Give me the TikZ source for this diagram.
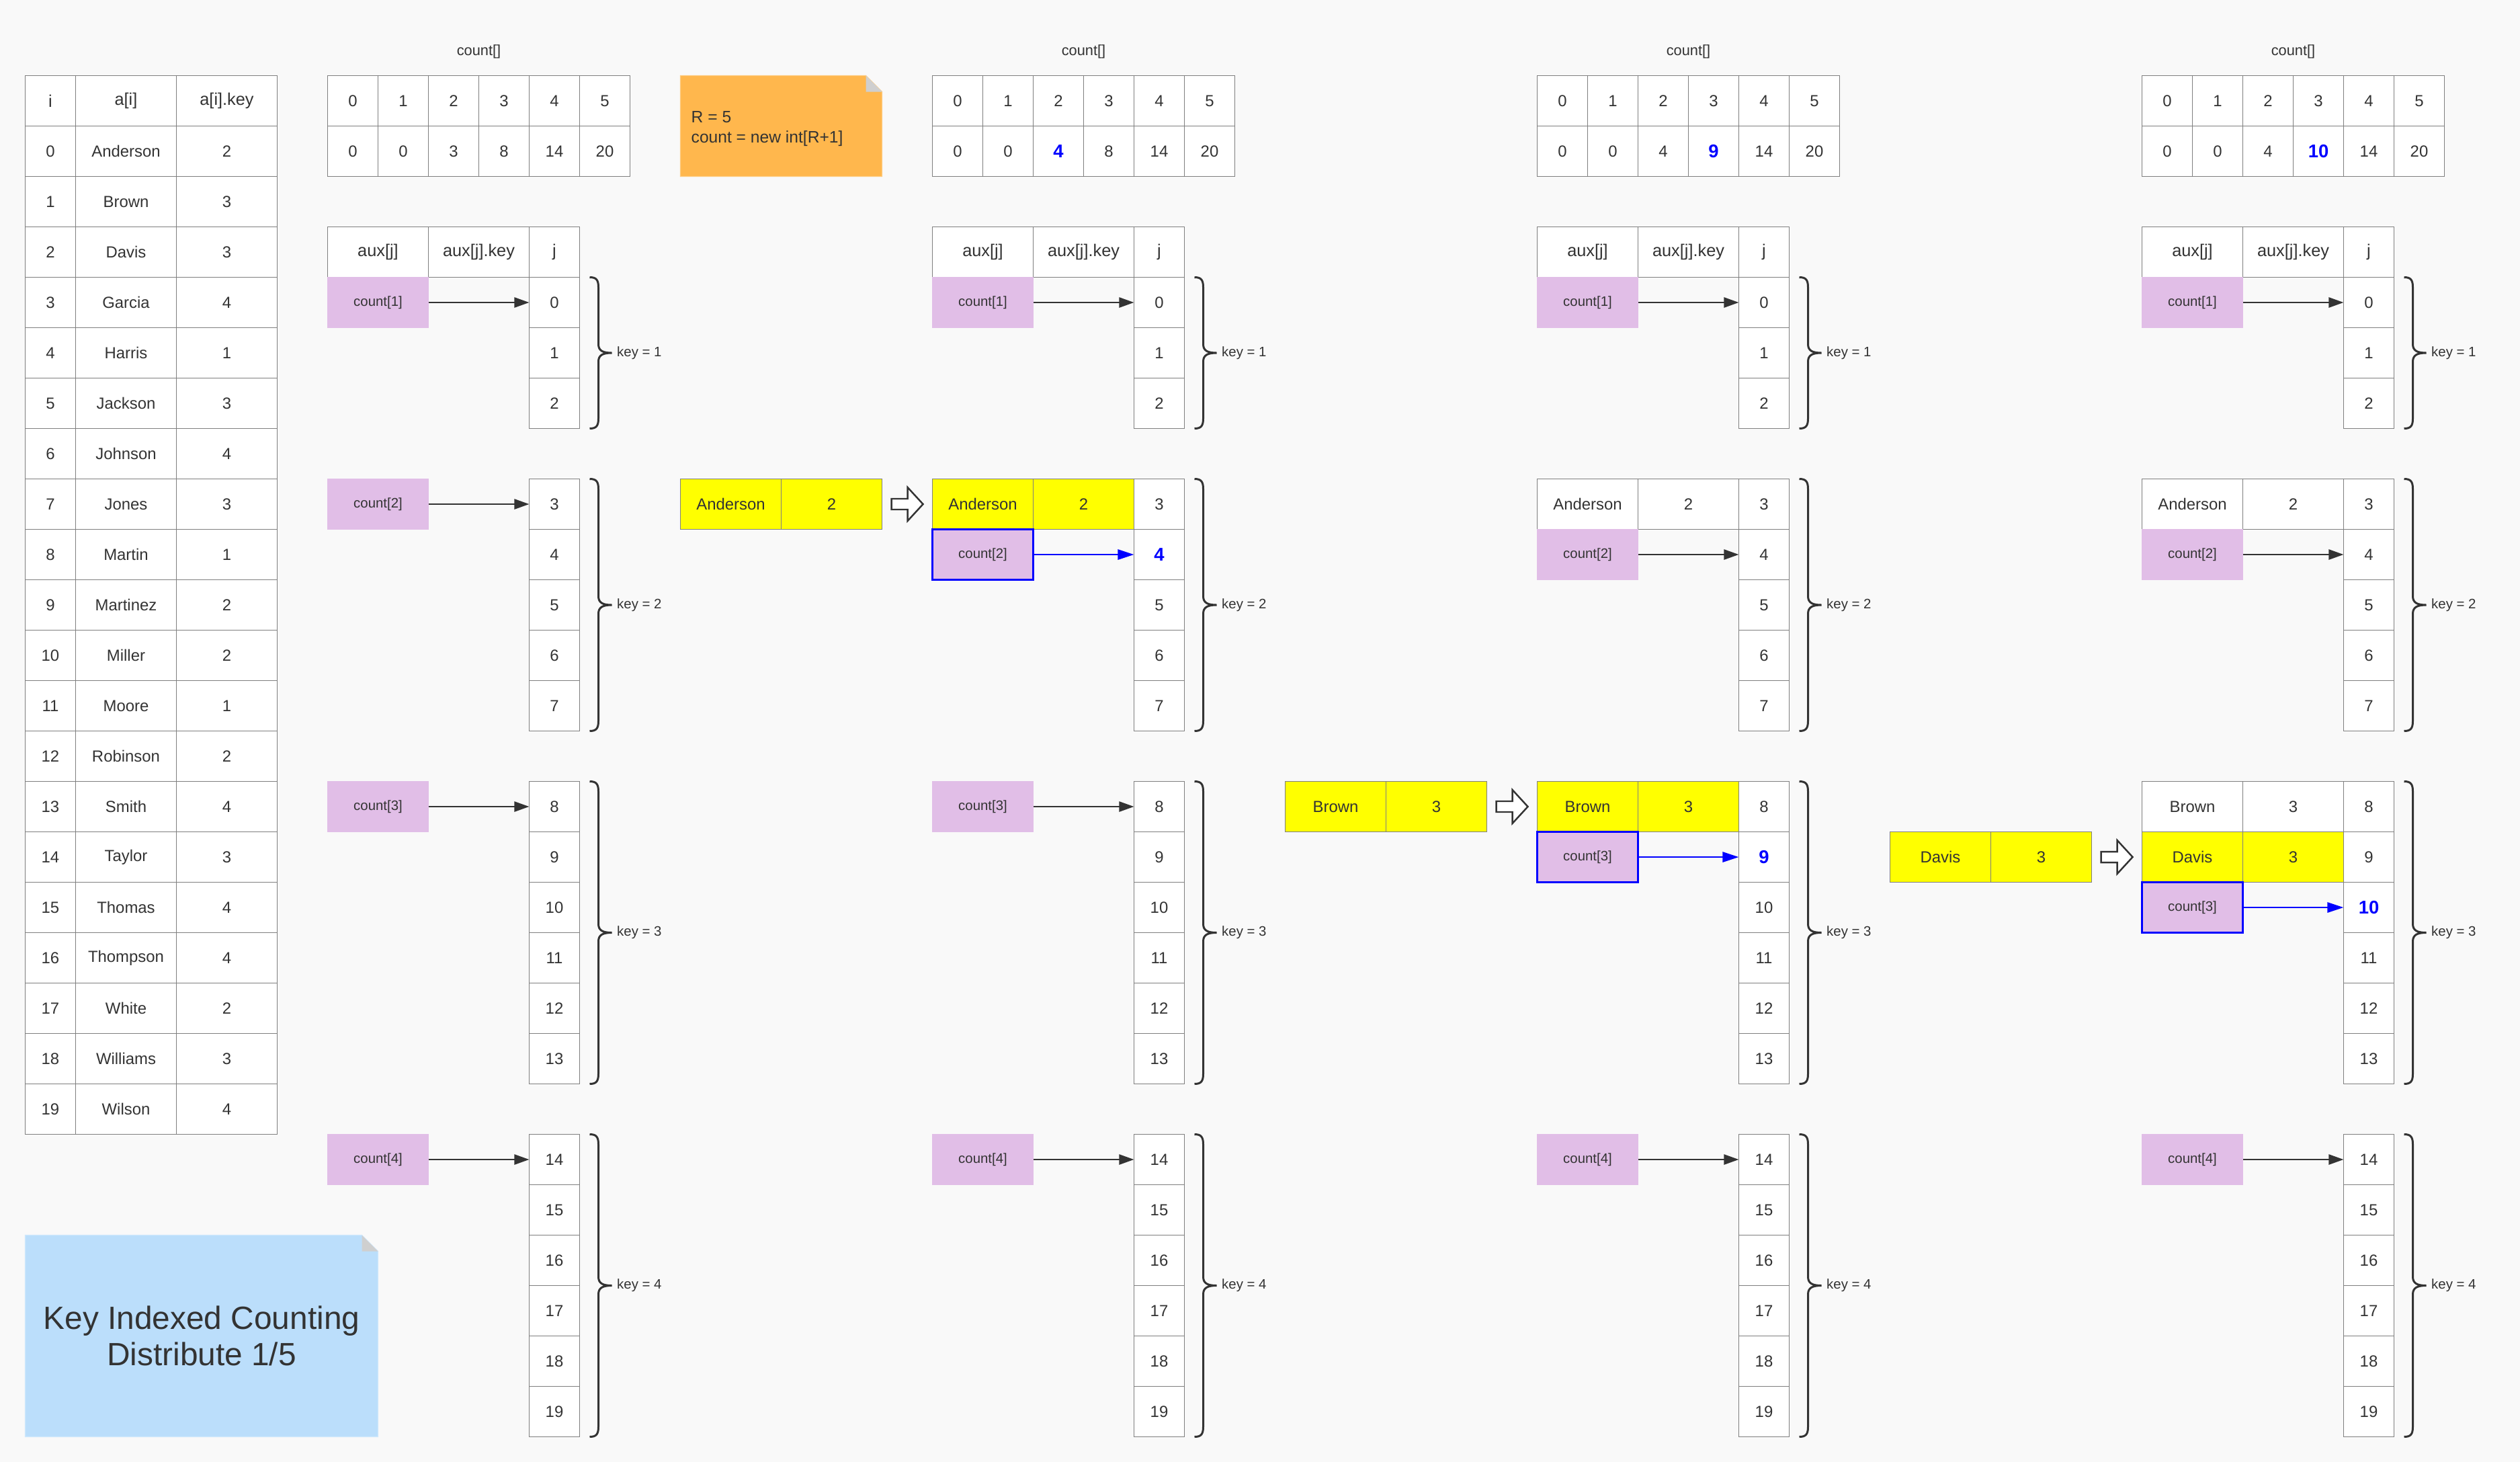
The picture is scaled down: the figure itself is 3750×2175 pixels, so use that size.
\documentclass[tikz,border=0pt]{standalone}
\usepackage{fontspec}
\setmainfont{Liberation Sans}
\usetikzlibrary{arrows.meta,calc}

\definecolor{bgc}{HTML}{F9F9F9}
\definecolor{gridc}{HTML}{7F7F7F}
\definecolor{txt}{HTML}{333333}
\definecolor{ptrc}{HTML}{E1BEE7}
\definecolor{hiblue}{HTML}{0000FF}
\definecolor{yel}{HTML}{FFFF00}
\definecolor{orng}{HTML}{FFB74D}
\definecolor{orngb}{HTML}{FFCC80}
\definecolor{lblue}{HTML}{BBDEFB}
\definecolor{lblueb}{HTML}{CFE8FC}
\definecolor{foldc}{HTML}{CFCFCF}

\newcommand{\cellf}{\fontsize{6.8pt}{8pt}\selectfont}
\newcommand{\headf}{\fontsize{7.2pt}{8.5pt}\selectfont}
\newcommand{\smallf}{\fontsize{5.8pt}{7pt}\selectfont}
\newcommand{\labf}{\fontsize{6.2pt}{7.5pt}\selectfont}
\newcommand{\notef}{\fontsize{7pt}{8.5pt}\selectfont}
\newcommand{\titlef}{\fontsize{13.6pt}{15.4pt}\selectfont}
\newcommand{\hv}[1]{\textcolor{hiblue}{\fontsize{7.8pt}{9pt}\selectfont\bfseries #1}}

% count[] table of group #1 with values #2
\newcommand{\cntable}[2]{%
  \pgfmathsetmacro{\dx}{900*#1}%
  \node[lbl,font=\labf] (c#1-lab) at ({712.5+\dx},77) {count[]};
  \foreach \v [count=\k from 0] in {#2}{%
    \node[tcell] (c#1-i\k) at ({525+75*\k+\dx},150) {\k};
    \node[tcell] (c#1-v\k) at ({525+75*\k+\dx},225) {\v};
  }%
}

% aux table of group #1, highlighted j = #2
\newcommand{\auxtable}[2]{%
  \pgfmathsetmacro{\dx}{900*#1}%
  \node[twide,font=\headf] (a#1-h1) at ({562.5+\dx},375) {aux[j]};
  \node[twide,font=\headf] (a#1-h2) at ({712.5+\dx},375) {aux[j].key};
  \node[tcell,font=\headf] (a#1-h3) at ({825+\dx},375) {j};
  \foreach \j in {0,...,19}{%
    \pgfmathtruncatemacro{\rr}{\j+(\j>2)+(\j>7)+(\j>13)}%
    \node[tcell] (a#1-j\j) at ({825+\dx},{450+75*\rr}) {\ifnum\j=#2\relax\hv{\j}\else\j\fi};
  }%
  \foreach \tp/\bt/\kk in {412.5/637.5/1,712.5/1087.5/2,1162.5/1612.5/3,1687.5/2137.5/4}{%
    \pgfmathsetmacro{\bx}{877.5+\dx}%
    \pgfmathsetmacro{\bm}{(\tp+\bt)/2}%
    \draw[bracestyle] (\bx,\tp) .. controls ({\bx+10},\tp) and ({\bx+13},{\tp+4}) .. ({\bx+13},{\tp+15})
      -- ({\bx+13},{\bm-13}) .. controls ({\bx+13},{\bm-3}) and ({\bx+20},\bm) .. ({\bx+33},\bm)
      .. controls ({\bx+20},\bm) and ({\bx+13},{\bm+3}) .. ({\bx+13},{\bm+13})
      -- ({\bx+13},{\bt-15}) .. controls ({\bx+13},{\bt-4}) and ({\bx+10},\bt) .. (\bx,\bt);
    \node[lbl,anchor=west] (a#1-key\kk) at ({\bx+40},\bm) {key = \kk};
  }%
}

% pointer box: group #1, count index #2, j row #3, highlighted #4 (1/0)
\newcommand{\ptrnode}[4]{%
  \ifnum#4=1\relax
    \node[ptrhi] (p#1-#2) at ($(a#1-j#3.center)+(-262.5,0)$) {count[#2]};
    \draw[hiarrow] (p#1-#2.east) -- (a#1-j#3.west);
  \else
    \node[ptrbox] (p#1-#2) at ($(a#1-j#3.center)+(-262.5,0)$) {count[#2]};
    \draw[ptrarrow] (p#1-#2.east) -- (a#1-j#3.west);
  \fi
}

% data row: group #1, j row #2, name #3, key #4, style #5
\newcommand{\datarow}[5]{%
  \node[#5] (d#1-n#2) at ($(a#1-j#2.center)+(-262.5,0)$) {#3};
  \node[#5] (d#1-k#2) at ($(a#1-j#2.center)+(-112.5,0)$) {#4};
}

\begin{document}
\begin{tikzpicture}[x=0.01cm,y=-0.01cm,
  every node/.style={text=txt},
  tcell/.style={draw=gridc, line width=0.37pt, fill=white, minimum width=0.75cm,
    minimum height=0.75cm, inner sep=0pt, outer sep=0pt, font=\cellf, text=txt},
  twide/.style={tcell, minimum width=1.5cm},
  ycell/.style={twide, fill=yel},
  ptrbox/.style={draw=ptrc, line width=0.37pt, fill=ptrc, minimum width=1.5cm,
    minimum height=0.75cm, inner sep=0pt, outer sep=0pt, font=\smallf, text=txt},
  ptrhi/.style={ptrbox, draw=hiblue, line width=0.85pt},
  ptrarrow/.style={draw=txt, line width=0.7pt, -{Triangle[length=0.22cm,width=0.15cm]}},
  hiarrow/.style={draw=hiblue, line width=0.8pt, -{Triangle[length=0.24cm,width=0.15cm]}},
  lbl/.style={font=\smallf, text=txt, inner sep=0pt},
  bracestyle/.style={draw=txt, line width=0.85pt},
  hollow/.style={draw=txt, fill=white, line width=0.7pt, line join=miter}
]
\fill[bgc] (0,0) rectangle (3750,2175);
\useasboundingbox (0,0) rectangle (3750,2175);

% ---------- left table ----------
\node[tcell,font=\headf] (h-i) at (75,150) {i};
\node[twide,font=\headf] (h-a) at (187.5,150) {a[i]};
\node[twide,font=\headf] (h-k) at (337.5,150) {a[i].key};
\foreach \nm/\ky [count=\i from 0] in {Anderson/2,Brown/3,Davis/3,Garcia/4,Harris/1,Jackson/3,Johnson/4,Jones/3,Martin/1,Martinez/2,Miller/2,Moore/1,Robinson/2,Smith/4,Taylor/3,Thomas/4,Thompson/4,White/2,Williams/3,Wilson/4}{
  \node[tcell] (L\i-i) at (75,{225+75*\i}) {\i};
  \node[twide] (L\i-a) at (187.5,{225+75*\i}) {\nm};
  \node[twide] (L\i-k) at (337.5,{225+75*\i}) {\ky};
}

% ---------- count tables ----------
\cntable{0}{0,0,3,8,14,20}
\cntable{1}{0,0,\hv{4},8,14,20}
\cntable{2}{0,0,4,\hv{9},14,20}
\cntable{3}{0,0,4,\hv{10},14,20}

% ---------- aux tables ----------
\auxtable{0}{-1}
\auxtable{1}{4}
\auxtable{2}{9}
\auxtable{3}{10}

% ---------- data rows ----------
\datarow{1}{3}{Anderson}{2}{ycell}
\datarow{2}{3}{Anderson}{2}{twide}
\datarow{2}{8}{Brown}{3}{ycell}
\datarow{3}{3}{Anderson}{2}{twide}
\datarow{3}{8}{Brown}{3}{twide}
\datarow{3}{9}{Davis}{3}{ycell}

% ---------- pointers ----------
\ptrnode{0}{1}{0}{0}
\ptrnode{0}{2}{3}{0}
\ptrnode{0}{3}{8}{0}
\ptrnode{0}{4}{14}{0}
\ptrnode{1}{1}{0}{0}
\ptrnode{1}{2}{4}{1}
\ptrnode{1}{3}{8}{0}
\ptrnode{1}{4}{14}{0}
\ptrnode{2}{1}{0}{0}
\ptrnode{2}{2}{4}{0}
\ptrnode{2}{3}{9}{1}
\ptrnode{2}{4}{14}{0}
\ptrnode{3}{1}{0}{0}
\ptrnode{3}{2}{4}{0}
\ptrnode{3}{3}{10}{1}
\ptrnode{3}{4}{14}{0}

% ---------- standalone items and hollow arrows ----------
\node[ycell] (s1-n) at (1087.5,750) {Anderson};
\node[ycell] (s1-k) at (1237.5,750) {2};
\node[ycell] (s2-n) at (1987.5,1200) {Brown};
\node[ycell] (s2-k) at (2137.5,1200) {3};
\node[ycell] (s3-n) at (2887.5,1275) {Davis};
\node[ycell] (s3-k) at (3037.5,1275) {3};
\foreach \s in {s1,s2,s3}{
  \draw[hollow] ($(\s-k.east)+(14,-8)$) -- ++(24,0) -- ++(0,-17) -- ++(23,25)
    -- ++(-23,25) -- ++(0,-17) -- ++(-24,0) -- cycle;
}

% ---------- orange note ----------
\draw[fill=orng, draw=orngb, line width=0.37pt] (1012.5,112.5) -- (1288.5,112.5) -- (1312.5,136.5)
  -- (1312.5,262.5) -- (1012.5,262.5) -- cycle;
\fill[foldc] (1288.5,112.5) -- (1312.5,136.5) -- (1288.5,136.5) -- cycle;
\node[anchor=base west, inner sep=0pt, font=\notef] (note1) at (1028,182) {R = 5};
\node[anchor=base west, inner sep=0pt, font=\notef] (note2) at (1028,212) {count = new int[R+1]};

% ---------- title note ----------
\draw[fill=lblue, draw=lblueb, line width=0.37pt] (37.5,1837.5) -- (538.5,1837.5) -- (562.5,1861.5)
  -- (562.5,2137.5) -- (37.5,2137.5) -- cycle;
\fill[foldc] (538.5,1837.5) -- (562.5,1861.5) -- (538.5,1861.5) -- cycle;
\node[anchor=base, inner sep=0pt, font=\titlef] (title1) at (300,1977) {Key Indexed Counting};
\node[anchor=base, inner sep=0pt, font=\titlef] (title2) at (300,2031) {Distribute 1/5};
\end{tikzpicture}
\end{document}
